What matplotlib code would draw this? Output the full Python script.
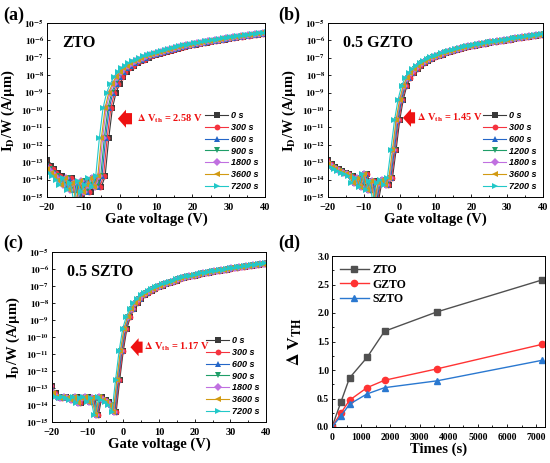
import numpy as np
import matplotlib
matplotlib.use("Agg")
import matplotlib.pyplot as plt
from matplotlib.ticker import FixedLocator, FuncFormatter, MultipleLocator

plt.rcParams['font.family'] = ['Liberation Serif', 'DejaVu Serif']
plt.rcParams['font.weight'] = 'bold'
plt.rcParams['axes.labelweight'] = 'bold'
plt.rcParams['mathtext.fontset'] = 'stix'

# gate voltage grid of the transfer curves (V)
vg = np.arange(-23, 44)

# log10(I_D/W) of the fresh (0 s) device
zto_base = [-12.6, -12.7, -12.8,
            -12.9, -13.2, -13.4, -13.6, -13.8, -14.0, -14.3, -13.9, -14.6, -14.2,
            -15.3, -14.1, -14.7, -14.3, -13.9, -14.4, -13.8, -11.6, -9.9, -9.0,
            -8.5, -8.1, -7.8, -7.6, -7.45, -7.3, -7.2, -7.1, -7.0, -6.92,
            -6.85, -6.78, -6.71, -6.65, -6.59, -6.53, -6.48, -6.43, -6.38, -6.33,
            -6.29, -6.25, -6.21, -6.17, -6.13, -6.09, -6.06, -6.02, -5.99, -5.95,
            -5.92, -5.89, -5.86, -5.83, -5.80, -5.77, -5.74, -5.71, -5.68, -5.65,
            -5.62, -5.59, -5.56, -5.53]
gzto_base = [-12.6, -12.7, -12.8,
             -12.9, -13.1, -13.3, -13.4, -13.5, -13.6, -13.7, -13.8, -14.2, -13.9,
             -14.4, -13.7, -14.6, -14.1, -15.3, -14.2, -14.0, -14.3, -13.9, -12.3,
             -10.6, -9.4, -8.6, -8.15, -7.85, -7.62, -7.45, -7.3, -7.18, -7.08,
             -6.98, -6.9, -6.82, -6.75, -6.68, -6.62, -6.56, -6.5, -6.45, -6.4,
             -6.35, -6.31, -6.27, -6.23, -6.19, -6.15, -6.12, -6.08, -6.05, -6.01,
             -5.98, -5.95, -5.92, -5.89, -5.86, -5.83, -5.8, -5.77, -5.74, -5.71,
             -5.68, -5.65, -5.62, -5.6]
szto_base = [-12.6, -12.7, -12.8,
             -12.9, -13.3, -13.5, -13.6, -13.5, -13.6, -13.7, -13.5, -13.9, -13.6,
             -13.5, -13.8, -13.6, -14.6, -13.5, -13.7, -13.8, -14.0, -14.4, -12.5,
             -10.8, -9.5, -8.8, -8.35, -8.0, -7.75, -7.55, -7.4, -7.27, -7.16,
             -7.07, -6.98, -6.9, -6.82, -6.75, -6.68, -6.61, -6.55, -6.49, -6.44,
             -6.39, -6.34, -6.3, -6.26, -6.22, -6.18, -6.14, -6.1, -6.07, -6.03,
             -6.0, -5.97, -5.94, -5.91, -5.88, -5.85, -5.82, -5.79, -5.76, -5.73,
             -5.7, -5.67, -5.64, -5.61]

# stress time and threshold voltage shift (panel d)
times = [0, 300, 600, 1200, 1800, 3600, 7200]
dvth_zto = [0.0, 0.43, 0.86, 1.22, 1.68, 2.02, 2.58]
dvth_gzto = [0.0, 0.24, 0.47, 0.69, 0.82, 1.02, 1.45]
dvth_szto = [0.0, 0.19, 0.40, 0.58, 0.69, 0.81, 1.17]

labels_900 = ['0 s', '300 s', '600 s', '900 s', '1800 s', '3600 s', '7200 s']
labels_1200 = ['0 s', '300 s', '600 s', '1200 s', '1800 s', '3600 s', '7200 s']

colors = ['#3a3a3a', '#f5333f', '#2466c8', '#1f9e68', '#c070e0', '#d29a12', '#22c8c8']
markers = ['s', 'o', '^', 'v', 'D', '<', '>']

W, H = 550, 463
fig = plt.figure(figsize=(W / 100, H / 100), dpi=100)


def box(l, t, r, b):
    return [l / W, 1 - b / H, (r - l) / W, (b - t) / H]


def log_fmt(v, pos):
    e = int(round(np.log10(v)))
    return r'$\mathbf{10^{%d}}$' % e


def bold_ticks(ax):
    for t in ax.get_xticklabels() + ax.get_yticklabels():
        t.set_fontweight('bold')


def transfer_panel(ax, base, shifts, labels, name, lx):
    for k in range(len(shifts)):
        ax.plot(vg - shifts[k], 10.0 ** np.array(base), color=colors[k],
                marker=markers[k], ms=4.2, lw=0.8, mew=0, label=labels[k])
    ax.set_yscale('log')
    ax.set_xlim(-20, 40)
    ax.set_ylim(1e-15, 1e-5)
    ax.yaxis.set_major_locator(FixedLocator([10.0 ** e for e in range(-15, -4)]))
    ax.yaxis.set_major_formatter(FuncFormatter(log_fmt))
    ax.yaxis.set_minor_locator(FixedLocator([]))
    ax.xaxis.set_major_locator(MultipleLocator(10))
    ax.xaxis.set_minor_locator(MultipleLocator(5))
    ax.tick_params(which='both', direction='in', labelsize=7.5, length=2.5, width=0.6, pad=4.5)
    ax.tick_params(axis='y', labelsize=6.8, pad=2)
    ax.tick_params(which='minor', length=1.5)
    ax.set_xlabel('Gate voltage (V)', fontsize=10.5, labelpad=0)
    ax.set_ylabel(r'I$_\mathbf{D}$/W (A/$\mathbf{\mu}$m)', fontsize=10.5)
    ax.yaxis.set_label_coords(lx, 0.5)
    ax.text(0.07, 0.885, name, transform=ax.transAxes, fontsize=11.5,
            fontweight='bold', va='center', ha='left')
    ax.legend(loc='lower right', frameon=False, handlelength=2.6,
              labelspacing=0.3, borderaxespad=0.3, handletextpad=0.3,
              prop={'family': 'Liberation Sans', 'weight': 'bold', 'style': 'italic',
                    'size': 6.5})
    bold_ticks(ax)
    return ax


ax_a = fig.add_axes(box(47, 23, 265, 197))
transfer_panel(ax_a, zto_base, dvth_zto, labels_900, 'ZTO', -0.138)
ax_b = fig.add_axes(box(328, 23, 543, 197))
transfer_panel(ax_b, gzto_base, dvth_gzto, labels_1200, '0.5 GZTO', -0.14)
ax_c = fig.add_axes(box(52, 252, 266, 422))
transfer_panel(ax_c, szto_base, dvth_szto, labels_900, '0.5 SZTO', -0.14)

# red block arrows with the shift annotation
arrows = [(ax_a, -0.5, 3.4, 10 ** -10.5, 4.8, '2.58'),
          (ax_b, 0.9, 4.3, 10 ** -10.45, 4.8, '1.45'),
          (ax_c, 2.0, 5.4, 10 ** -10.6, 5.8, '1.17')]
for ax, xh, xt, y, xtxt, val in arrows:
    ax.annotate('', xy=(xh, y), xytext=(xt, y),
                arrowprops=dict(arrowstyle='simple,head_length=0.45,head_width=1.0,tail_width=0.62',
                                mutation_scale=13, color='#ee1111', lw=0,
                                shrinkA=0, shrinkB=0))
    ax.text(xtxt, y, r'$\mathbf{\Delta}$ V$_\mathbf{th}$ = %s V' % val, color='#ee1111',
            fontsize=7.5, fontweight='bold', va='center', ha='left')

# panel d
ax_d = fig.add_axes(box(332, 256, 545, 427))
ax_d.plot(times, dvth_zto, color='#505050', marker='s', ms=4.5, lw=1.0, label='ZTO')
ax_d.plot(times, dvth_gzto, color='#ff3333', marker='o', ms=4.5, lw=1.0, label='GZTO')
ax_d.plot(times, dvth_szto, color='#2a78d0', marker='^', ms=4.5, lw=1.0, label='SZTO')
ax_d.set_xlim(0, 7300)
ax_d.set_ylim(0, 3.0)
ax_d.xaxis.set_major_locator(MultipleLocator(1000))
ax_d.xaxis.set_minor_locator(MultipleLocator(500))
ax_d.yaxis.set_major_locator(MultipleLocator(0.5))
ax_d.yaxis.set_minor_locator(MultipleLocator(0.25))
ax_d.yaxis.set_major_formatter(FuncFormatter(lambda v, p: '%.1f' % v))
ax_d.tick_params(which='both', direction='in', labelsize=7, length=2.5, width=0.6, pad=4.5)
ax_d.tick_params(axis='y', pad=2)
ax_d.tick_params(which='minor', length=1.5)
ax_d.set_xlabel('Times (s)', fontsize=10.5, labelpad=0)
ax_d.set_ylabel(r'$\mathbf{\Delta}$ V$_\mathbf{TH}$', fontsize=12.5)
ax_d.yaxis.set_label_coords(-0.13, 0.5)
ax_d.legend(loc='upper left', frameon=False, handlelength=2.4, labelspacing=0.2,
            handletextpad=0.3, borderaxespad=0.3,
            prop={'family': 'Liberation Serif', 'weight': 'bold', 'size': 8.5})
bold_ticks(ax_d)

for ax in (ax_a, ax_b, ax_c, ax_d):
    for s in ax.spines.values():
        s.set_linewidth(0.7)

for lab, x, y in [('(a)', 3, 15), ('(b)', 278, 15), ('(c)', 3, 243), ('(d)', 278, 243)]:
    fig.text(x / W, 1 - y / H, lab, fontsize=13, fontweight='bold', va='center', ha='left')

fig.savefig('out.png', dpi=100)
